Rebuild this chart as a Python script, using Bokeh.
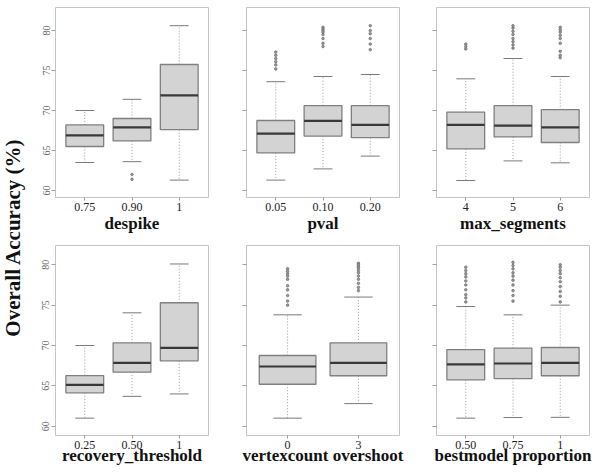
import math
from bokeh.plotting import figure
from bokeh.layouts import row, column
from bokeh.models import Range1d, FixedTicker, Label
from bokeh.embed import file_html
from bokeh.resources import INLINE

SERIF = "Liberation Serif"

y_ticks = [60, 65, 70, 75, 80]
y_title = "Overall Accuracy (%)"

# ---- despike ----
despike_labels = ["0.75", "0.90", "1"]
despike_lo = [63.5, 63.6, 61.3]
despike_q1 = [65.5, 66.2, 67.6]
despike_med = [66.9, 67.9, 71.9]
despike_q3 = [68.2, 69.0, 75.75]
despike_hi = [70.0, 71.4, 80.6]
despike_out = [[], [62.0, 61.4], []]

# ---- pval ----
pval_labels = ["0.05", "0.10", "0.20"]
pval_lo = [61.3, 62.7, 64.3]
pval_q1 = [64.7, 66.8, 66.6]
pval_med = [67.1, 68.7, 68.2]
pval_q3 = [68.75, 70.6, 70.6]
pval_hi = [73.6, 74.25, 74.5]
pval_out = [[77.3, 76.9, 76.5, 76.1, 75.7, 75.2],
            [80.4, 80.2, 80.0, 79.8, 79.5, 79.0, 78.4, 78.0],
            [80.6, 80.0, 79.6, 79.0, 78.3, 77.6]]

# ---- max_segments ----
maxseg_labels = ["4", "5", "6"]
maxseg_lo = [61.25, 63.7, 63.46]
maxseg_q1 = [65.2, 66.7, 66.0]
maxseg_med = [68.2, 68.1, 67.9]
maxseg_q3 = [69.8, 70.6, 70.1]
maxseg_hi = [73.96, 76.5, 74.25]
maxseg_out = [[78.3, 78.0, 77.7],
              [80.6, 80.3, 79.9, 79.5, 79.0, 78.6, 78.2, 77.8],
              [80.4, 80.1, 79.8, 79.4, 79.0, 78.4, 77.4, 76.9, 76.6]]

# ---- recovery_threshold ----
recov_labels = ["0.25", "0.50", "1"]
recov_lo = [61.0, 63.7, 64.0]
recov_q1 = [64.14, 66.7, 68.1]
recov_med = [65.13, 67.86, 69.7]
recov_q3 = [66.28, 70.33, 75.3]
recov_hi = [70.0, 74.05, 80.1]
recov_out = [[], [], []]

# ---- vertexcount overshoot ----
vco_labels = ["0", "3"]
vco_lo = [61.0, 62.8]
vco_q1 = [65.2, 66.25]
vco_med = [67.4, 67.86]
vco_q3 = [68.76, 70.33]
vco_hi = [73.8, 76.0]
vco_out = [[79.5, 79.2, 78.9, 78.6, 78.2, 77.4, 76.9, 76.2, 75.5, 75.0],
           [80.2, 80.0, 79.8, 79.6, 79.3, 79.0, 78.6, 78.2, 77.7, 77.2, 76.8]]

# ---- bestmodel proportion ----
bmp_labels = ["0.50", "0.75", "1"]
bmp_lo = [61.0, 61.08, 61.1]
bmp_q1 = [65.75, 65.9, 66.25]
bmp_med = [67.65, 67.77, 67.86]
bmp_q3 = [69.5, 69.67, 69.75]
bmp_hi = [74.83, 73.8, 75.0]
bmp_out = [[79.7, 79.3, 78.9, 78.5, 78.0, 77.5, 76.9, 76.3, 75.9, 75.4],
           [80.3, 79.9, 79.5, 79.0, 78.6, 78.1, 77.5, 76.8, 76.2, 75.5],
           [80.0, 79.7, 79.3, 78.9, 78.4, 77.9, 77.3, 76.7, 76.1, 75.4]]

TOP_YR = (59.125, 82.875)
BOT_YR = (58.85, 82.39)


def make_panel(xlabel, labels, lo, q1, med, q3, hi, out, yr, width, height,
               borders, show_ylabels, label_standoff):
    n = len(labels)
    pos = [i + 1 for i in range(n)]
    pad = 0.04 * n
    bl, br, bt, bb = borders
    p = figure(width=width, height=height,
               x_range=Range1d(0.5 - pad, n + 0.5 + pad),
               y_range=Range1d(*yr),
               output_backend="svg", toolbar_location=None,
               min_border_left=bl, min_border_right=br,
               min_border_top=bt, min_border_bottom=bb,
               background_fill_color="white", border_fill_color="white")
    p.xgrid.visible = False
    p.ygrid.visible = False
    p.outline_line_color = "#c4c4c4"
    p.outline_line_width = 1

    hw = 0.4
    cw = 0.2
    # whiskers (dotted)
    p.segment(x0=pos, y0=q3, x1=pos, y1=hi, line_color="#9a9a9a",
              line_width=1, line_dash="1 2")
    p.segment(x0=pos, y0=q1, x1=pos, y1=lo, line_color="#9a9a9a",
              line_width=1, line_dash="1 2")
    # caps
    p.segment(x0=[x - cw for x in pos], y0=hi, x1=[x + cw for x in pos], y1=hi,
              line_color="#7a7a7a", line_width=1)
    p.segment(x0=[x - cw for x in pos], y0=lo, x1=[x + cw for x in pos], y1=lo,
              line_color="#7a7a7a", line_width=1)
    # boxes
    p.quad(left=[x - hw for x in pos], right=[x + hw for x in pos],
           bottom=q1, top=q3, fill_color="#d3d3d3",
           line_color="#808080", line_width=1.3)
    # medians
    p.segment(x0=[x - hw for x in pos], y0=med, x1=[x + hw for x in pos], y1=med,
              line_color="#383838", line_width=2.2)
    # outliers
    ox, oy = [], []
    for x, vals in zip(pos, out):
        for v in vals:
            ox.append(x)
            oy.append(v)
    if ox:
        p.scatter(x=ox, y=oy, size=2.6, marker="circle", line_color="#6a6a6a",
                  fill_color="#9a9a9a", line_width=0.7)

    # x axis
    xa = p.xaxis[0]
    xa.ticker = FixedTicker(ticks=pos)
    xa.major_label_overrides = {x: lab for x, lab in zip(pos, labels)}
    xa.axis_line_color = None
    xa.major_tick_out = 3
    xa.major_tick_in = 0
    xa.minor_tick_out = 0
    xa.minor_tick_in = 0
    xa.major_tick_line_color = "#9a9a9a"
    xa.major_label_standoff = 2
    xa.major_label_text_font = SERIF
    xa.major_label_text_font_size = "12px"
    xa.major_label_text_color = "#222222"
    xa.axis_label = xlabel
    xa.axis_label_text_font = SERIF
    xa.axis_label_text_font_style = "bold"
    xa.axis_label_text_font_size = "17px"
    xa.axis_label_text_color = "#111111"
    xa.axis_label_standoff = label_standoff

    # y axis
    ya = p.yaxis[0]
    ya.ticker = FixedTicker(ticks=y_ticks)
    ya.axis_line_color = None
    ya.major_tick_out = 4
    ya.major_tick_in = 0
    ya.minor_tick_out = 0
    ya.minor_tick_in = 0
    ya.major_tick_line_color = "#a0a0a0"
    ya.major_label_orientation = "vertical"
    ya.major_label_standoff = 2
    ya.major_label_text_font = SERIF
    ya.major_label_text_font_size = "10px"
    ya.major_label_text_color = "#666666"
    if not show_ylabels:
        ya.major_label_overrides = {t: "" for t in y_ticks}
        ya.major_label_text_font_size = "1px"
    return p


TOP_H = 240
BOT_H = 234
C1_W, C2_W, C3_W = 191, 191, 180

f1 = make_panel("despike", despike_labels, despike_lo, despike_q1, despike_med,
                despike_q3, despike_hi, despike_out, TOP_YR, C1_W, TOP_H,
                (20, 18, 7, 43), True, 0)
f2 = make_panel("pval", pval_labels, pval_lo, pval_q1, pval_med,
                pval_q3, pval_hi, pval_out, TOP_YR, C2_W, TOP_H,
                (20, 18, 7, 43), False, 0)
f3 = make_panel("max_segments", maxseg_labels, maxseg_lo, maxseg_q1, maxseg_med,
                maxseg_q3, maxseg_hi, maxseg_out, TOP_YR, C3_W, TOP_H,
                (19, 8, 7, 43), False, 0)
f4 = make_panel("recovery_threshold", recov_labels, recov_lo, recov_q1, recov_med,
                recov_q3, recov_hi, recov_out, BOT_YR, C1_W, BOT_H,
                (20, 18, 5, 39), True, -6)
f5 = make_panel("vertexcount overshoot", vco_labels, vco_lo, vco_q1, vco_med,
                vco_q3, vco_hi, vco_out, BOT_YR, C2_W, BOT_H,
                (20, 18, 5, 39), False, -6)
f6 = make_panel("bestmodel proportion", bmp_labels, bmp_lo, bmp_q1, bmp_med,
                bmp_q3, bmp_hi, bmp_out, BOT_YR, C3_W, BOT_H,
                (19, 8, 5, 39), False, -6)

# common y-axis title
tf = figure(width=35, height=TOP_H + BOT_H, x_range=Range1d(0, 1),
            y_range=Range1d(0, 1), output_backend="svg", toolbar_location=None,
            min_border_left=0, min_border_right=0, min_border_top=0,
            min_border_bottom=0, background_fill_color="white",
            border_fill_color="white")
tf.axis.visible = False
tf.xgrid.visible = False
tf.ygrid.visible = False
tf.outline_line_color = None
tf.add_layout(Label(x=0.37, y=0.50, text=y_title, angle=math.pi / 2,
                    text_align="center", text_baseline="middle",
                    text_font=SERIF, text_font_style="bold",
                    text_font_size="21px", text_color="#111111"))

layout = row(tf, column(row(f1, f2, f3), row(f4, f5, f6)))

open("out.html", "w").write(file_html(layout, INLINE))
